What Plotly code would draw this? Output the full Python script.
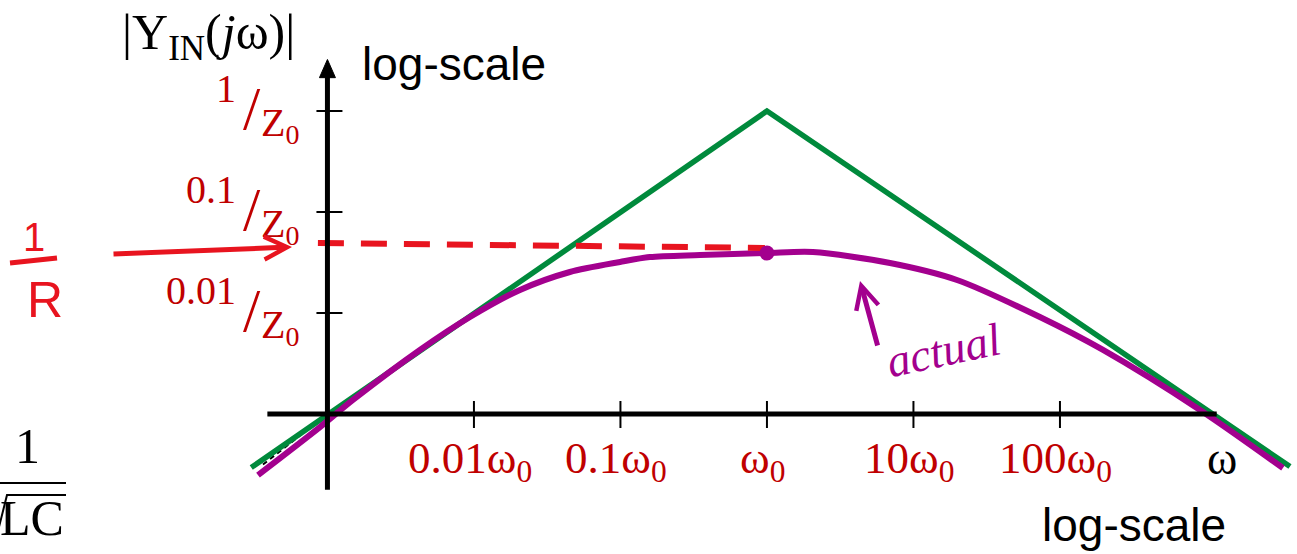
import plotly.graph_objects as go

W, H = 1297, 554

# ---------------- data (decades: log10(w/w0), log10(|Y|*Z0)) ----------------
asym_logw = [-3.52, 0.0, 3.57]
asym_logy = [-3.53, 0.0, -3.52]

actual_logw = [-3.474, -3.051, -2.826, -2.369, -2.027, -1.686, -1.345, -1.003,
               -0.799, -0.457, 0.0, 0.314, 0.840, 1.297, 1.863, 2.294, 2.956, 3.522]
actual_logy = [-3.604, -3.129, -2.861, -2.366, -2.040, -1.772, -1.594, -1.495,
               -1.446, -1.426, -1.406, -1.396, -1.505, -1.673, -2.040, -2.366, -2.960, -3.535]

invR_logw = [-3.065, -0.014]
invR_logy = [-1.307, -1.356]

peak_logw = [0.0]
peak_logy = [-1.406]

ext_logw = [-3.44, -3.14]
ext_logy = [-3.50, -3.16]

xtick_vals = [-2, -1, 0, 1, 2]
xtick_text = ["0.01ω<sub>0</sub>", "0.1ω<sub>0</sub>", "ω<sub>0</sub>",
              "10ω<sub>0</sub>", "100ω<sub>0</sub>"]
ytick_vals = [0, -1, -2]
ytick_num = ["1", "0.1", "0.01"]
origin = -3.0

# ---------------- styling ----------------
GREEN = "#008A3C"
PURPLE = "#A3008E"
HRED = "#E8141F"
DRED = "#C00000"
SERIF = "Liberation Serif"
SANS = "Liberation Sans"

XR = [-5.235, 3.618]
YR = [-4.386, 1.099]
SX = W / (XR[1] - XR[0])
SY = H / (YR[1] - YR[0])


def px(xp):
    return xp / W


def py(yp):
    return 1 - yp / H


fig = go.Figure()

fig.add_trace(go.Scatter(x=ext_logw, y=ext_logy, mode="lines",
                         line=dict(color="black", width=2, dash="5px,4px"),
                         hoverinfo="skip"))
fig.add_trace(go.Scatter(x=asym_logw, y=asym_logy, mode="lines",
                         line=dict(color=GREEN, width=5.5), hoverinfo="skip"))
fig.add_trace(go.Scatter(x=actual_logw, y=actual_logy, mode="lines",
                         line=dict(color=PURPLE, width=6, shape="spline", smoothing=0.8),
                         hoverinfo="skip"))
fig.add_trace(go.Scatter(x=invR_logw, y=invR_logy, mode="lines",
                         line=dict(color=HRED, width=6, dash="26px,17px"),
                         hoverinfo="skip"))
fig.add_trace(go.Scatter(x=peak_logw, y=peak_logy, mode="markers",
                         marker=dict(color=PURPLE, size=15), hoverinfo="skip"))

shapes = []
# axes
shapes.append(dict(type="line", xref="x", yref="y", x0=-3.41, x1=3.07, y0=origin, y1=origin,
                   line=dict(color="black", width=5)))
shapes.append(dict(type="line", xref="x", yref="y", x0=origin, x1=origin, y0=-3.75, y1=0.36,
                   line=dict(color="black", width=5)))
hw = 8 / SX
shapes.append(dict(type="path", xref="x", yref="y",
                   path=f"M {origin - hw},{0.33} L {origin},{0.51} L {origin + hw},{0.33} Z",
                   fillcolor="black", line=dict(color="black", width=1)))
for v in ytick_vals:
    shapes.append(dict(type="line", xref="x", yref="y", x0=origin - 11 / SX, x1=origin + 15 / SX,
                       y0=v, y1=v, line=dict(color="black", width=2)))
for u in xtick_vals:
    shapes.append(dict(type="line", xref="x", yref="y", x0=u, x1=u,
                       y0=origin + 13 / SY, y1=origin - 14 / SY, line=dict(color="black", width=2)))
# 1/R fraction bar
shapes.append(dict(type="line", xref="paper", yref="paper", x0=px(10), x1=px(57), y0=py(263), y1=py(258),
                   line=dict(color=HRED, width=5)))
# 1/sqrt(LC) fraction bar and radical
shapes.append(dict(type="line", xref="paper", yref="paper", x0=px(-5), x1=px(66), y0=py(483), y1=py(483),
                   line=dict(color="black", width=2)))
shapes.append(dict(type="path", xref="paper", yref="paper",
                   path=f"M {px(-3)},{py(535)} L {px(7)},{py(495)} L {px(66)},{py(495)}",
                   line=dict(color="black", width=2)))

ann = []
# x tick labels
for u, t in zip(xtick_vals, xtick_text):
    ann.append(dict(x=u, y=origin, xref="x", yref="y", text=t, showarrow=False,
                    xanchor="center", yanchor="middle", xshift=-4, yshift=-47,
                    font=dict(family=SERIF, size=45, color=DRED)))
# y tick labels
for v, t in zip(ytick_vals, ytick_num):
    ann.append(dict(x=origin, y=v, xref="x", yref="y", text=t, showarrow=False,
                    xanchor="right", yanchor="middle", xshift=-89, yshift=23,
                    font=dict(family=SERIF, size=40, color=DRED)))
    ann.append(dict(x=origin, y=v, xref="x", yref="y", text="/", showarrow=False,
                    xanchor="center", yanchor="middle", xshift=-75, yshift=3,
                    font=dict(family=SERIF, size=62, color=DRED)))
    ann.append(dict(x=origin, y=v, xref="x", yref="y", text="Z<sub>0</sub>", showarrow=False,
                    xanchor="left", yanchor="middle", xshift=-68, yshift=-14,
                    font=dict(family=SERIF, size=40, color=DRED)))

# titles
ann.append(dict(x=px(208), y=py(36), xref="paper", yref="paper",
                text="|Y<sub>IN</sub>(<i>j</i>ω)|", showarrow=False,
                xanchor="center", yanchor="middle", font=dict(family=SERIF, size=50, color="black")))
ann.append(dict(x=px(360), y=py(64), xref="paper", yref="paper", text="log-scale", showarrow=False,
                xanchor="left", yanchor="middle", font=dict(family=SANS, size=46, color="black")))
ann.append(dict(x=px(1040), y=py(525), xref="paper", yref="paper", text="log-scale", showarrow=False,
                xanchor="left", yanchor="middle", font=dict(family=SANS, size=46, color="black")))
ann.append(dict(x=px(1222), y=py(458), xref="paper", yref="paper", text="ω", showarrow=False,
                xanchor="center", yanchor="middle", font=dict(family=SERIF, size=46, color="black")))
# 1/sqrt(LC)
ann.append(dict(x=px(27), y=py(446), xref="paper", yref="paper", text="1", showarrow=False,
                xanchor="center", yanchor="middle", font=dict(family=SERIF, size=50, color="black")))
ann.append(dict(x=px(66), y=py(518), xref="paper", yref="paper", text="LC", showarrow=False,
                xanchor="right", yanchor="middle", font=dict(family=SERIF, size=50, color="black")))
# 1/R handwritten
ann.append(dict(x=px(34), y=py(237), xref="paper", yref="paper", text="1", showarrow=False,
                xanchor="center", yanchor="middle", font=dict(family=SANS, size=40, color=HRED)))
ann.append(dict(x=px(45), y=py(300), xref="paper", yref="paper", text="R", showarrow=False,
                xanchor="center", yanchor="middle", font=dict(family=SANS, size=50, color=HRED)))
# red arrow to 1/R line
ann.append(dict(x=px(292), y=py(247), xref="paper", yref="paper", ax=-180, ay=7, text="",
                showarrow=True, arrowhead=5, arrowsize=0.9, arrowwidth=5, arrowcolor=HRED,
                standoff=0))
# actual label + arrow
ann.append(dict(x=px(860), y=py(281), xref="paper", yref="paper", ax=18, ay=66, text="",
                showarrow=True, arrowhead=5, arrowsize=0.9, arrowwidth=5, arrowcolor=PURPLE,
                standoff=0))
ann.append(dict(x=px(943), y=py(350), xref="paper", yref="paper", text="<i>actual</i>", showarrow=False,
                xanchor="center", yanchor="middle", textangle=-12,
                font=dict(family=SERIF, size=46, color=PURPLE)))

fig.update_layout(
    width=W, height=H, autosize=False,
    margin=dict(l=0, r=0, t=0, b=0),
    paper_bgcolor="white", plot_bgcolor="white",
    showlegend=False,
    xaxis=dict(range=XR, visible=False, fixedrange=True),
    yaxis=dict(range=YR, visible=False, fixedrange=True),
    shapes=shapes, annotations=ann,
)

fig.write_html("out.html", config={"displayModeBar": False},
               post_script="document.body.style.margin='0px';document.body.style.overflow='hidden';")
